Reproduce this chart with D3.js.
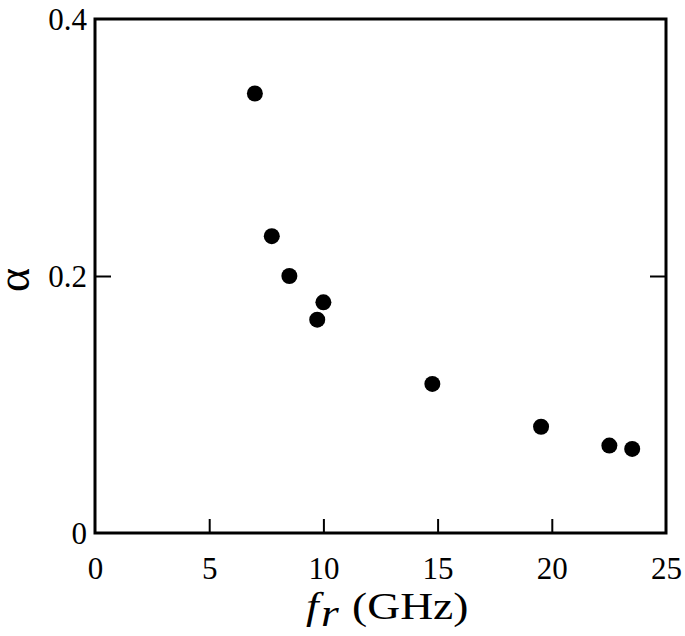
<!DOCTYPE html>
<html><head><meta charset="utf-8">
<script src="https://cdn.jsdelivr.net/npm/d3@7"></script>
<style>body{margin:0;background:#fff}svg{display:block}</style>
</head><body>
<script>
const freq = [7.0, 7.74, 8.51, 10.0, 9.73, 14.77, 19.53, 22.52, 23.52];
const alpha = [0.342, 0.231, 0.200, 0.1795, 0.166, 0.116, 0.0827, 0.068, 0.0654];
const xTicks = [0, 5, 10, 15, 20, 25];
const yTicks = [0, 0.2, 0.4];

const W = 685, H = 636;
const m = {left: 95, right: 666, top: 19, bottom: 533};
const svg = d3.select("body").append("svg").attr("width", W).attr("height", H);
const x = d3.scaleLinear().domain([0, 25]).range([m.left, m.right]);
const y = d3.scaleLinear().domain([0, 0.4]).range([m.bottom, m.top]);
const font = "'Liberation Serif','Times New Roman',serif";

// ticks (inward)
const xa = svg.append("g").attr("transform", `translate(0,${m.bottom})`)
  .call(d3.axisBottom(x).tickValues(xTicks).tickSizeInner(-14).tickSizeOuter(0).tickPadding(24).tickFormat(d3.format("d")));
xa.select(".domain").remove();
xa.selectAll("line").attr("stroke", "#000").attr("stroke-width", 2)
  .filter(d => d === 0 || d === 25).remove();
xa.selectAll("text").attr("font-family", font).attr("font-size", 31).attr("fill", "#000");

const ya = svg.append("g").attr("transform", `translate(${m.left},0)`)
  .call(d3.axisLeft(y).tickValues(yTicks).tickSizeInner(-16).tickSizeOuter(0).tickPadding(8)
    .tickFormat(d => d === 0 ? "0" : d3.format(".1f")(d)));
ya.select(".domain").remove();
ya.selectAll("line").attr("stroke", "#000").attr("stroke-width", 2)
  .filter(d => d === 0 || d === 0.4).remove();
ya.selectAll("text").attr("font-family", font).attr("font-size", 31).attr("fill", "#000")
  .attr("dy", "0.35em");

const yr = svg.append("g").attr("transform", `translate(${m.right},0)`)
  .call(d3.axisRight(y).tickValues([0.2]).tickSizeInner(-16).tickSizeOuter(0).tickFormat(""));
yr.select(".domain").remove();
yr.selectAll("line").attr("stroke", "#000").attr("stroke-width", 2);

// frame
svg.append("rect").attr("x", m.left).attr("y", m.top)
  .attr("width", m.right - m.left).attr("height", m.bottom - m.top)
  .attr("fill", "none").attr("stroke", "#000").attr("stroke-width", 3);

// points
svg.append("g").selectAll("circle").data(freq.map((f, i) => [f, alpha[i]]))
  .join("circle").attr("cx", d => x(d[0])).attr("cy", d => y(d[1])).attr("r", 8).attr("fill", "#000");

// axis titles
const t = svg.append("text").attr("transform", "translate(306,619) scale(1.2,1)")
  .attr("font-family", font).attr("font-size", 38).attr("fill", "#000");
t.append("tspan").attr("font-style", "italic").text("f");
t.append("tspan").attr("font-style", "italic").attr("dy", 7).attr("dx", 2).text("r");
t.append("tspan").attr("dy", -7).attr("dx", 11).text("(GHz)");

svg.append("text").attr("transform", "translate(29,280) rotate(-90)")
  .attr("text-anchor", "middle").attr("font-family", font).attr("font-size", 46).attr("fill", "#000")
  .text("α");
</script>
</body></html>
